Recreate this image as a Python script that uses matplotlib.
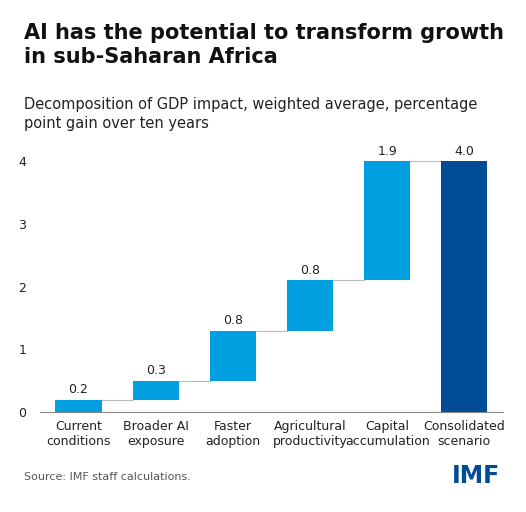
import matplotlib.pyplot as plt

categories = ['Current\nconditions', 'Broader AI\nexposure', 'Faster\nadoption',
              'Agricultural\nproductivity', 'Capital\naccumulation', 'Consolidated\nscenario']
gains = [0.2, 0.3, 0.8, 0.8, 1.9]
total = 4.0
labels = ['0.2', '0.3', '0.8', '0.8', '1.9', '4.0']

light = '#009fdf'
dark = '#004c97'

fig = plt.figure(figsize=(5.26, 5.12), dpi=100)
ax = fig.add_axes([0.076, 0.195, 0.88, 0.49])

bottoms = []
acc = 0
for g in gains:
    bottoms.append(acc)
    acc += g
heights = gains + [total]
bottoms = bottoms + [0]
colors = [light] * 5 + [dark]
x = list(range(6))
ax.bar(x, heights, bottom=bottoms, width=0.6, color=colors)

# connectors
for i in range(5):
    top = bottoms[i] + heights[i]
    ax.plot([i + 0.3, i + 0.7], [top, top], color='#bbbbbb', lw=0.8, zorder=0)

for i in range(6):
    ax.text(i, bottoms[i] + heights[i] + 0.06, labels[i], ha='center', va='bottom',
            fontsize=9, color='#222222')

ax.set_xlim(-0.5, 5.5)
ax.set_ylim(0, 4.0)
ax.set_yticks([0, 1, 2, 3, 4])
ax.set_xticks(x)
ax.set_xticklabels(categories, fontsize=9, color='#222222')
ax.tick_params(axis='y', length=0, labelsize=9, colors='#222222', pad=10)
ax.tick_params(axis='x', length=0, pad=6)
for s in ['top', 'right', 'left']:
    ax.spines[s].set_visible(False)
ax.spines['bottom'].set_color('#888888')
ax.set_clip_on(False)
for c in ax.patches:
    c.set_clip_on(False)

fig.text(0.045, 0.955, 'AI has the potential to transform growth\nin sub-Saharan Africa',
         fontsize=15, fontweight='bold', va='top', linespacing=1.25, color='#111111')
fig.text(0.045, 0.81, 'Decomposition of GDP impact, weighted average, percentage\npoint gain over ten years',
         fontsize=10.5, va='top', linespacing=1.35, color='#222222')
fig.text(0.045, 0.068, 'Source: IMF staff calculations.', fontsize=8, color='#555555', va='center')
fig.text(0.95, 0.07, 'IMF', fontsize=17, fontweight='bold', color=dark, ha='right', va='center')

fig.savefig('out.png')
